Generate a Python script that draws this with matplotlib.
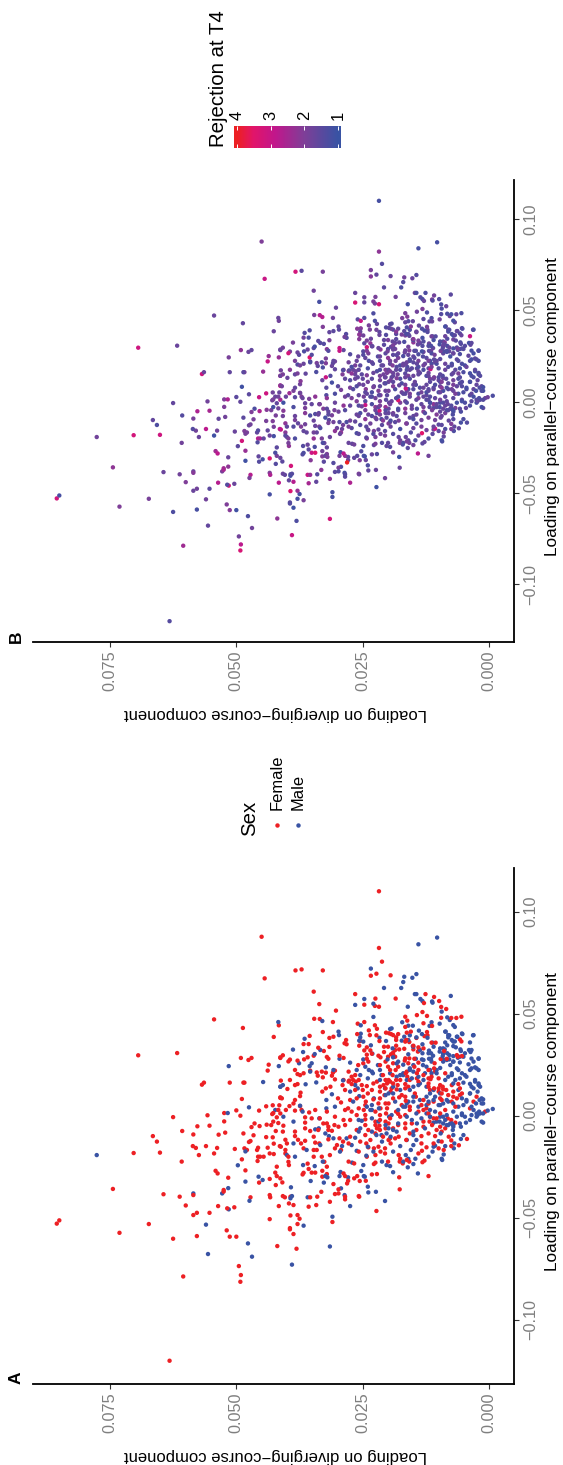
import numpy as np
import matplotlib
matplotlib.use("Agg")
import matplotlib.pyplot as plt
from matplotlib.colors import LinearSegmentedColormap
from matplotlib.lines import Line2D

plt.rcParams['font.family'] = ['Liberation Sans', 'DejaVu Sans']

# Each row: parallel-course loading, diverging-course loading, rejection at T4
female_outer = [
(.0877,.0450,2.0),(.0673,.0444,3.0),(.0472,.0544,1.7),(.0430,.0487,1.6),(.0443,.0416,1.8),(.0386,.0426,1.7),(.0296,.0694,3.1),(.0307,.0617,1.7),
(.0283,.0491,2.2),(.0273,.0476,1.7),(.0283,.0470,1.6),(.0250,.0436,2.3),(.0221,.0438,3.0),(.0283,.0413,1.5),(.0152,.0568,3.1),(.0162,.0564,1.7),
(.0162,.0513,1.6),(.0162,.0486,1.5),(.0162,.0484,1.9),(.0087,.0413,3.0),(.0082,.0489,1.1),(.0046,.0441,3.1),(.0051,.0428,1.8),(.0051,.0415,1.7),
(.0026,.0500,1.5),(.0025,.0455,3.0),(.0028,.0417,1.8),(.0013,.0524,2.0),(.0008,.0429,1.8),(.0013,.0427,1.9),(.0000,.0492,1.6),(-.0007,.0625,1.6),
(.0002,.0557,1.8),(-.0008,.0420,1.6),(-.0028,.0524,2.0),(-.0038,.0464,1.3),(-.0029,.0427,1.2),(-.0036,.0417,1.8),(-.0052,.0577,2.6),(-.0049,.0553,2.5),
(-.0056,.0470,2.0),(-.0051,.0454,2.6),(-.0044,.0440,2.1),(-.0046,.0431,1.9),(-.0075,.0607,1.4),(-.0092,.0585,1.9),(-.0093,.0535,1.6),(-.0083,.0522,1.8),
(-.0087,.0486,1.5),(-.0096,.0466,1.9),(-.0075,.0422,1.9),(-.0100,.0665,1.6),(-.0127,.0657,1.3),(-.0105,.0441,1.9),(-.0106,.0428,2.0),(-.0129,.0475,1.7),
(-.0124,.0472,1.8),(-.0149,.0586,1.4),(-.0158,.0580,1.8),(-.0149,.0560,2.8),(-.0158,.0538,1.8),(-.0163,.0503,1.7),(-.0160,.0484,2.0),(-.0168,.0479,1.9),
(-.0157,.0457,1.4),(-.0168,.0459,1.6),(-.0157,.0438,1.6),(-.0137,.0426,1.9),(-.0149,.0414,2.8),(-.0183,.0703,3.2),(-.0181,.0651,3.1),(-.0193,.0574,1.7),
(-.0185,.0544,1.1),(-.0201,.0457,2.7),(-.0201,.0453,2.5),(-.0201,.0446,1.6),(-.0185,.0434,1.7),(-.0188,.0426,1.2),(-.0214,.0489,3.2),
(.1100,.0218,1.2),(.0822,.0218,2.2),
]
female_upper = [
(.0712,.0383,3.2),(.0717,.0371,1.5),(.0712,.0329,1.9),(.0608,.0347,1.8),(.0547,.0336,1.2),(.0515,.0303,1.7),(.0475,.0346,1.9),(.0474,.0335,2.7),
(.0459,.0309,1.8),(.0410,.0329,2.0),(.0391,.0355,1.4),(.0381,.0316,1.6),(.0387,.0308,1.5),(.0371,.0283,1.4),(.0355,.0286,1.8),(.0350,.0282,1.4),
(.0351,.0367,1.8),(.0351,.0357,1.3),(.0333,.0338,1.5),(.0337,.0316,1.9),(.0317,.0327,1.4),(.0296,.0408,1.8),(.0286,.0413,1.7),(.0286,.0359,1.7),
(.0294,.0347,1.5),(.0288,.0321,2.1),(.0279,.0318,1.4),(.0294,.0296,3.0),(.0283,.0288,1.6),(.0275,.0394,1.9),(.0276,.0366,1.3),(.0755,.0212,1.4),
(.0696,.0223,1.6),(.0686,.0234,2.1),(.0596,.0265,1.7),(.0574,.0225,1.9),(.0544,.0247,1.6),(.0538,.0226,1.9),(.0534,.0218,3.3),(.0451,.0260,1.5),
(.0459,.0247,1.4),(.0443,.0226,1.3),(.0426,.0222,1.6),(.0418,.0238,1.9),(.0400,.0261,2.1),(.0394,.0223,1.8),(.0395,.0236,1.9),(.0407,.0204,1.4),
(.0404,.0198,1.5),(.0366,.0217,1.7),(.0343,.0257,2.1),(.0366,.0255,1.8),(.0335,.0242,1.9),(.0320,.0247,1.5),(.0320,.0235,2.2),(.0338,.0208,1.6),
(.0338,.0200,1.9),(.0312,.0208,1.5),(.0299,.0242,3.2),(.0294,.0219,1.7),(.0286,.0215,2.2),(.0304,.0232,1.6),(.0279,.0242,2.0),(.0289,.0200,1.4),
(.0688,.0195,1.7),(.0574,.0185,1.8),(.0596,.0126,1.3),(.0582,.0109,1.8),(.0562,.0099,1.4),(.0552,.0129,1.7),(.0533,.0095,1.3),(.0523,.0085,1.7),
(.0493,.0143,1.8),(.0508,.0132,2.0),(.0489,.0123,1.3),(.0485,.0166,1.9),(.0480,.0095,1.4),(.0479,.0075,1.2),(.0479,.0065,1.6),(.0485,.0055,1.3),
(.0466,.0162,2.0),(.0453,.0130,1.5),(.0435,.0166,1.6),(.0440,.0113,1.7),(.0412,.0155,2.1),(.0407,.0163,1.3),(.0410,.0123,1.9),(.0400,.0194,1.8),
(.0395,.0190,1.4),(.0400,.0180,1.6),(.0394,.0122,1.7),(.0390,.0128,1.2),(.0384,.0184,2.1),(.0371,.0184,1.5),(.0381,.0144,1.7),(.0371,.0164,1.3),
(.0363,.0166,1.9),(.0361,.0158,1.6),(.0374,.0058,1.4),(.0364,.0055,1.7),(.0358,.0114,1.8),(.0358,.0106,1.4),(.0343,.0184,1.5),(.0343,.0150,2.1),
(.0335,.0140,1.9),(.0330,.0130,1.4),(.0325,.0178,1.6),(.0328,.0168,1.3),(.0322,.0186,1.7),(.0309,.0190,1.9),(.0325,.0150,2.2),(.0320,.0139,1.5),
(.0314,.0141,1.7),(.0317,.0089,1.6),(.0297,.0190,1.3),(.0289,.0186,1.8),(.0301,.0194,1.6),(.0297,.0064,1.5),(.0289,.0062,1.8),(.0292,.0054,1.4),
(.0281,.0166,1.7),(.0281,.0158,2.0),(.0279,.0148,1.4),(.0278,.0096,1.9),(.0279,.0084,1.3),
]
female_middle = [
(.0266,.0397,3.2),(.0270,.0379,1.7),(.0224,.0384,1.9),(.0204,.0379,1.4),(.0199,.0374,1.8),(.0208,.0367,1.7),(.0221,.0354,1.5),(.0212,.0341,1.9),
(.0216,.0331,1.4),(.0211,.0323,2.0),(.0196,.0339,1.6),(.0188,.0329,1.3),(.0196,.0311,1.7),(.0221,.0305,1.8),(.0211,.0309,1.5),(.0175,.0394,2.1),
(.0172,.0412,1.8),(.0150,.0384,1.6),(.0155,.0379,1.9),(.0131,.0399,1.7),(.0090,.0413,2.2),(.0178,.0305,1.6),(.0150,.0290,2.0),(.0172,.0277,1.5),
(.0175,.0269,1.7),(.0155,.0272,2.2),(.0167,.0264,1.8),(.0126,.0285,1.6),(.0113,.0373,2.1),(.0096,.0374,1.8),(.0142,.0314,1.4),(.0134,.0323,3.0),
(.0118,.0330,1.7),(.0085,.0299,1.5),(.0065,.0293,1.9),(.0077,.0384,1.6),(.0060,.0387,1.9),(.0047,.0395,2.4),(.0085,.0410,1.8),(.0028,.0402,1.7),
(.0025,.0384,1.5),(.0028,.0371,2.0),(.0016,.0356,1.9),(.0028,.0344,2.2),(.0047,.0374,1.4),(.0011,.0413,2.5),(-.0008,.0364,1.7),(-.0034,.0364,1.9),
(-.0049,.0407,2.1),(-.0078,.0408,1.8),(-.0013,.0351,1.6),(-.0013,.0335,1.9),(-.0005,.0305,1.7),(.0020,.0321,2.2),(-.0054,.0318,1.6),(-.0070,.0318,1.5),
(-.0074,.0311,1.9),(-.0038,.0328,2.0),(-.0070,.0338,1.7),(-.0021,.0288,2.2),(-.0046,.0285,1.4),(-.0054,.0298,1.8),(-.0046,.0306,1.9),(-.0038,.0321,1.5),
(-.0078,.0384,1.7),(-.0100,.0384,1.9),(-.0062,.0364,2.1),(-.0075,.0354,1.3),(-.0103,.0347,1.7),(-.0123,.0364,1.8),(-.0118,.0378,1.6),(-.0136,.0372,2.0),
(-.0132,.0344,1.7),(-.0136,.0336,1.9),(-.0118,.0403,2.2),(-.0136,.0400,1.6),(-.0152,.0412,3.0),(-.0168,.0403,2.1),(-.0168,.0347,1.8),(-.0168,.0341,1.6),
(-.0116,.0318,1.9),(-.0111,.0296,1.4),(-.0144,.0301,1.7),(-.0160,.0305,2.2),(-.0127,.0289,1.8),(-.0136,.0278,1.9),(-.0127,.0255,1.4),(-.0155,.0239,2.0),
(-.0103,.0275,1.8),(-.0176,.0258,1.5),(-.0201,.0242,2.1),(-.0193,.0225,1.9),(-.0168,.0293,2.2),(-.0160,.0367,1.6),(-.0201,.0397,1.9),(-.0185,.0403,1.5),
(-.0201,.0347,2.3),(-.0201,.0331,1.9),(-.0193,.0315,1.7),(.0248,.0259,1.7),(.0257,.0249,1.4),(.0265,.0239,1.9),(.0216,.0278,1.8),(.0191,.0272,1.3),
(.0199,.0265,1.9),(.0167,.0278,2.2),(.0175,.0258,1.6),(.0175,.0288,1.9),(.0126,.0265,1.7),(.0150,.0252,1.5),(.0145,.0242,2.0),(.0158,.0229,1.7),
(.0167,.0222,1.4),(.0150,.0209,1.8),(.0158,.0202,1.9),(.0126,.0232,1.5),(.0118,.0216,1.8),(.0175,.0199,1.6),(.0077,.0275,1.9),(.0085,.0262,1.4),
(.0093,.0249,1.7),(.0080,.0229,1.8),(.0085,.0216,1.5),(.0060,.0219,2.0),(.0060,.0199,1.8),(.0036,.0279,1.5),(.0020,.0272,1.9),(.0036,.0258,1.6),
(.0028,.0248,1.8),(.0003,.0245,1.4),(.0003,.0216,1.9),(.0020,.0225,1.8),(.0036,.0202,1.5),(-.0021,.0216,1.9),(-.0029,.0225,2.1),(-.0038,.0199,1.6),
(-.0018,.0245,3.0),(-.0070,.0239,1.7),(-.0062,.0222,1.4),(-.0070,.0216,1.9),(-.0119,.0235,1.8),(-.0152,.0219,1.6),(-.0119,.0199,2.0),(-.0160,.0206,1.5),
(-.0185,.0206,1.9),(-.0049,.0217,3.3),
]
female_core = [
(.0257,.0190,1.5),(.0240,.0180,1.9),(.0270,.0167,1.7),(.0260,.0140,1.3),(.0224,.0196,1.8),(.0199,.0191,2.0),(.0175,.0184,1.6),(.0175,.0176,1.4),
(.0216,.0163,1.8),(.0175,.0157,1.6),(.0183,.0143,1.5),(.0167,.0196,1.9),(.0158,.0190,1.7),(.0134,.0193,1.5),(.0150,.0181,1.8),(.0129,.0183,2.0),
(.0134,.0166,1.7),(.0155,.0166,1.5),(.0142,.0160,1.9),(.0101,.0173,1.3),(.0093,.0166,1.8),(.0090,.0178,1.6),(.0109,.0147,1.7),(.0093,.0145,1.4),
(.0224,.0120,1.9),(.0232,.0109,1.5),(.0216,.0107,1.7),(.0183,.0120,1.6),(.0134,.0109,1.9),(.0134,.0100,1.4),(.0129,.0091,1.8),(.0150,.0097,1.5),
(.0158,.0120,1.7),(.0150,.0074,1.5),(.0155,.0061,1.9),(.0134,.0058,1.4),(.0208,.0087,1.7),(.0101,.0081,1.5),(.0093,.0071,1.9),(.0085,.0064,1.6),
(.0109,.0054,1.4),(.0069,.0074,1.8),(.0069,.0031,1.6),(.0036,.0038,1.4),(.0020,.0008,1.7),(.0093,.0025,1.6),(.0044,.0067,1.9),(.0028,.0087,1.5),
(.0069,.0110,1.8),(.0077,.0130,1.7),(.0044,.0157,1.9),(.0028,.0157,1.6),(.0052,.0173,1.8),(.0020,.0184,1.5),(-.0005,.0176,2.0),(.0003,.0166,1.7),
(-.0029,.0130,1.9),(.0028,.0130,1.6),(-.0005,.0117,1.7),(-.0013,.0110,2.2),(-.0029,.0118,1.5),(-.0046,.0113,1.9),(-.0038,.0153,1.7),(-.0038,.0166,2.2),
(-.0062,.0166,1.8),(-.0046,.0180,1.5),(-.0062,.0190,1.9),(-.0013,.0104,1.6),(-.0062,.0087,1.9),(-.0070,.0104,2.0),(-.0078,.0094,1.7),(-.0100,.0107,1.8),
(-.0127,.0094,1.5),(-.0149,.0075,1.9),(-.0145,.0060,1.6),(-.0114,.0044,1.4),(-.0136,.0134,1.9),(-.0172,.0133,3.5),(-.0155,.0124,1.8),(-.0185,.0140,1.7),
(-.0103,.0179,1.9),(-.0111,.0186,1.5),(-.0111,.0196,1.8),(-.0119,.0164,2.0),(-.0193,.0179,1.6),(-.0211,.0176,1.8),(-.0217,.0163,1.9),(.0179,.0116,3.0),
(.0073,.0165,3.0),(.0009,.0180,3.5),
]
female_fill = [
(.0142,.0120,1.6),(.0126,.0117,1.9),(.0142,.0092,1.4),(.0118,.0100,1.7),(.0109,.0094,2.0),(.0126,.0085,1.5),(.0118,.0071,1.8),(.0101,.0058,1.4),
(.0085,.0097,1.7),(.0077,.0094,2.1),(.0060,.0120,1.5),(.0052,.0134,1.8),(.0036,.0124,1.6),(.0020,.0140,2.0),(.0011,.0120,1.5),(.0011,.0097,1.8),
(-.0013,.0082,1.7),(-.0021,.0075,1.4),(-.0034,.0067,1.9),(-.0054,.0097,1.6),(-.0054,.0130,2.1),(-.0070,.0144,1.7),(-.0087,.0120,1.9),(-.0087,.0157,1.5),
(-.0100,.0134,1.8),(-.0103,.0080,1.6),(-.0121,.0075,2.0),(-.0136,.0110,1.7),(-.0160,.0100,1.5),(-.0168,.0090,1.9),(.0208,.0143,1.6),(.0199,.0130,1.8),
(.0183,.0100,1.4),(.0167,.0140,1.7),(.0191,.0114,2.0),(.0240,.0148,1.5),(.0257,.0108,1.8),(.0257,.0160,1.6),(.0224,.0140,1.9),(.0208,.0165,1.7),
(.0191,.0162,1.4),(.0175,.0205,2.0),(.0199,.0210,1.6),(.0224,.0185,1.8),(.0240,.0200,2.2),(.0248,.0216,1.7),(.0265,.0205,1.5),(.0118,.0195,1.9),
(.0101,.0207,1.6),(.0085,.0190,2.0),(.0060,.0205,1.7),(.0036,.0215,1.9),(.0011,.0204,1.5),(-.0013,.0196,1.8),(-.0029,.0205,2.3),(-.0046,.0225,1.7),
(-.0062,.0205,1.6),(-.0087,.0225,1.9),(-.0103,.0210,2.1),(-.0136,.0195,1.7),(-.0136,.0243,1.5),(-.0160,.0228,1.9),(-.0176,.0215,1.8),(-.0095,.0245,2.2),
(-.0070,.0262,1.7),(-.0046,.0245,1.9),(-.0021,.0275,1.6),(.0003,.0262,2.0),(.0028,.0285,1.8),(.0052,.0245,1.5),(.0069,.0244,2.1),(.0109,.0240,1.8),
(.0126,.0250,1.6),(.0142,.0216,1.9),(.0134,.0205,1.7),
]
female_lower = [
(-.0225,.0608,1.8),(-.0270,.0541,2.4),(-.0283,.0537,2.8),(-.0304,.0516,1.7),(-.0268,.0482,2.3),(-.0222,.0458,1.4),(-.0250,.0420,1.5),(-.0226,.0397,1.9),
(-.0242,.0396,2.2),(-.0279,.0423,1.3),(-.0296,.0420,1.9),(-.0310,.0434,3.4),(-.0307,.0413,1.7),(-.0327,.0409,1.5),(-.0340,.0422,1.4),(-.0328,.0455,1.4),
(-.0359,.0744,2.2),(-.0385,.0644,1.7),(-.0397,.0612,1.8),(-.0389,.0585,2.1),(-.0364,.0525,2.4),(-.0372,.0525,2.5),(-.0400,.0472,2.7),(-.0389,.0434,2.0),
(-.0400,.0433,2.6),(-.0394,.0408,1.7),(-.0400,.0404,1.6),(-.0430,.0396,1.6),(-.0397,.0393,1.4),(-.0440,.0600,2.0),(-.0443,.0536,2.7),(-.0454,.0518,1.4),
(-.0449,.0504,1.7),(-.0443,.0416,2.8),(-.0438,.0387,2.7),(-.0476,.0578,1.8),(-.0487,.0585,1.7),(-.0476,.0553,1.5),(-.0489,.0393,3.4),(-.0487,.0379,2.3),
(-.0505,.0375,1.2),(-.0507,.0434,1.2),(-.0531,.0379,1.2),(-.0521,.0310,1.2),(-.0513,.0850,1.2),(-.0529,.0855,3.2),(-.0531,.0673,1.9),(-.0574,.0731,2.0),
(-.0562,.0519,2.0),(-.0551,.0394,1.5),(-.0557,.0394,1.4),(-.0580,.0387,1.1),(-.0590,.0578,1.2),(-.0593,.0513,2.1),(-.0593,.0500,1.1),(-.0603,.0625,1.3),
(-.0639,.0419,2.2),(-.0652,.0381,1.3),(-.0737,.0495,1.8),(-.0781,.0491,2.8),(-.0788,.0605,2.4),(-.0814,.0492,3.3),(-.1201,.0632,1.4),(-.0288,.0369,1.4),
(-.0280,.0367,1.3),(-.0261,.0357,1.5),(-.0279,.0351,3.0),(-.0279,.0344,3.4),(-.0235,.0359,1.7),(-.0270,.0330,1.8),(-.0250,.0321,1.6),(-.0299,.0330,2.0),
(-.0286,.0321,1.9),(-.0226,.0326,1.7),(-.0335,.0308,1.4),(-.0373,.0332,2.2),(-.0400,.0354,2.3),(-.0397,.0340,1.4),(-.0446,.0357,2.5),(-.0438,.0342,1.6),
(-.0422,.0315,2.2),(-.0384,.0305,1.5),(-.0381,.0298,1.4),(-.0361,.0298,1.9),(-.0283,.0288,2.8),(-.0296,.0285,2.2),(-.0319,.0279,1.7),(-.0332,.0281,4.0),
(-.0397,.0285,1.4),(-.0410,.0285,1.5),(-.0307,.0267,1.6),(-.0320,.0256,2.0),(-.0296,.0261,1.5),(-.0319,.0244,1.7),(-.0394,.0258,2.0),(-.0397,.0257,1.8),
(-.0467,.0223,1.1),(-.0288,.0232,1.7),(-.0286,.0222,1.4),(-.0237,.0228,1.6),(-.0230,.0225,1.9),(-.0225,.0278,1.7),(-.0234,.0267,1.8),(-.0225,.0200,1.6),
(-.0225,.0177,1.9),(-.0234,.0171,1.4),(-.0302,.0178,1.1),(-.0361,.0177,1.7),(-.0225,.0158,1.9),(-.0220,.0128,1.6),(-.0228,.0132,1.5),(-.0296,.0120,1.8),
]
male_outer = [
(.0459,.0417,1.7),(.0243,.0515,1.9),(.0243,.0416,2.3),(.0165,.0447,2.3),(.0142,.0413,3.0),(.0041,.0475,1.5),(.0028,.0423,1.7),(.0013,.0517,2.6),
(-.0175,.0482,1.9),(-.0193,.0776,1.8),(.0873,.0103,1.2),(.0840,.0140,1.2),
(.0721,.0234,1.9),(.0626,.0208,1.5),(.0572,.0247,1.7),(.0543,.0265,3.3),(.0549,.0229,1.9),(.0484,.0229,1.3),(.0464,.0330,2.7),(.0443,.0254,3.0),
(.0412,.0298,1.6),(.0395,.0297,1.5),(.0377,.0365,1.4),(.0402,.0254,2.1),(.0384,.0255,1.7),(.0368,.0257,2.2),(.0363,.0249,1.8),(.0382,.0217,1.5),
(.0366,.0204,1.4),(.0345,.0234,1.7),(.0425,.0196,1.6),(.0324,.0388,1.9),(.0312,.0368,1.5),(.0322,.0334,1.4),(.0302,.0345,1.2),(.0279,.0296,3.0),
(.0304,.0231,1.7),(.0276,.0249,1.4),(.0276,.0201,1.8),
]
male_upper = [
(.0694,.0144,1.4),(.0676,.0152,1.7),(.0681,.0168,1.8),(.0655,.0170,1.4),(.0626,.0174,1.3),(.0596,.0147,1.7),(.0596,.0144,1.3),(.0587,.0076,1.5),
(.0572,.0136,1.4),(.0562,.0132,1.2),(.0560,.0113,2.0),(.0554,.0112,1.4),(.0534,.0161,1.2),(.0510,.0094,1.3),(.0458,.0172,1.9),(.0441,.0160,1.4),
(.0441,.0151,1.6),(.0458,.0114,1.3),(.0440,.0118,1.5),(.0451,.0098,1.8),(.0482,.0083,1.3),(.0469,.0078,1.7),(.0444,.0071,1.2),(.0435,.0068,1.6),
(.0428,.0193,1.4),(.0417,.0139,1.6),(.0400,.0133,1.3),(.0412,.0086,1.8),(.0400,.0053,1.2),(.0394,.0032,1.3),(.0387,.0168,1.5),(.0394,.0157,1.3),
(.0384,.0144,1.7),(.0394,.0079,1.4),(.0384,.0081,1.3),(.0387,.0063,1.6),(.0382,.0122,1.4),(.0368,.0173,1.9),(.0363,.0071,1.2),(.0364,.0068,1.5),
(.0359,.0038,3.0),(.0358,.0112,1.3),(.0359,.0087,1.7),(.0345,.0083,1.4),(.0350,.0132,1.2),(.0341,.0071,1.8),(.0335,.0066,1.5),(.0330,.0191,1.6),
(.0341,.0151,1.3),(.0330,.0091,1.4),(.0325,.0088,2.1),(.0325,.0057,1.3),(.0317,.0056,1.4),(.0322,.0040,1.2),(.0312,.0037,1.6),(.0319,.0119,1.7),
(.0306,.0115,1.3),(.0294,.0111,1.6),(.0314,.0098,1.2),(.0303,.0091,1.7),(.0306,.0132,1.4),(.0301,.0160,1.8),(.0306,.0083,1.3),(.0297,.0079,1.6),
(.0292,.0071,1.2),(.0289,.0051,1.4),(.0292,.0092,1.5),(.0280,.0035,1.2),(.0279,.0021,1.3),(.0286,.0190,1.7),(.0279,.0145,1.4),(.0276,.0133,1.2),
(.0279,.0119,1.5),(.0279,.0115,1.8),(.0276,.0091,1.3),(.0276,.0079,1.6),(.0284,.0062,1.4),
]
male_middle = [
(.0257,.0376,1.5),(.0257,.0351,1.4),(.0243,.0355,3.5),(.0237,.0323,1.9),(.0216,.0354,1.3),(.0224,.0308,1.6),(.0260,.0275,1.4),(.0224,.0262,1.7),
(.0199,.0255,1.5),(.0173,.0289,1.4),(.0163,.0342,1.3),(.0154,.0363,1.6),(.0150,.0408,1.9),(.0142,.0413,1.7),(.0105,.0311,1.2),(.0077,.0322,1.5),
(.0049,.0374,1.8),(.0044,.0305,1.3),(.0096,.0257,1.7),(.0069,.0269,1.4),(.0044,.0242,1.6),(.0028,.0232,1.3),(.0020,.0369,1.7),(.0036,.0322,1.4),
(-.0005,.0407,1.1),(-.0029,.0387,1.3),(-.0013,.0336,1.7),(-.0021,.0258,1.4),(-.0025,.0252,1.8),(-.0013,.0232,1.3),(-.0029,.0219,1.5),(-.0062,.0199,1.6),
(-.0062,.0255,1.3),(-.0078,.0258,1.7),(-.0067,.0344,1.4),(-.0062,.0337,1.6),(-.0087,.0324,1.2),(-.0100,.0317,1.5),(-.0111,.0308,1.8),(-.0111,.0282,1.3),
(-.0108,.0265,1.6),(-.0078,.0232,1.4),(-.0095,.0223,1.7),(-.0095,.0213,1.3),(-.0087,.0203,1.5),(-.0136,.0387,1.4),(-.0168,.0361,1.6),(-.0144,.0334,1.3),
(-.0149,.0291,1.7),(-.0144,.0272,1.5),(-.0172,.0262,1.3),(-.0196,.0243,1.6),(-.0176,.0229,1.4),(-.0193,.0400,1.5),(-.0201,.0384,1.3),(-.0176,.0295,1.7),
(.0175,.0216,1.3),(.0199,.0213,1.6),(.0224,.0216,1.4),(.0216,.0232,1.7),(.0224,.0238,1.3),(.0134,.0206,1.5),(.0109,.0199,1.7),(.0028,.0235,1.4),
]
male_core = [
(.0033,-.0007,1.3),(.0025,.0003,1.8),(.0011,.0012,1.4),(-.0029,.0015,1.2),(-.0034,.0012,1.5),(.0020,.0020,1.3),(.0003,.0023,1.6),(.0060,.0026,1.2),
(.0077,.0019,1.3),(.0085,.0015,1.5),(.0060,.0012,1.2),(.0237,.0028,1.5),(.0224,.0021,1.3),(.0224,.0038,1.4),(.0252,.0041,1.6),(.0265,.0031,1.2),
(.0261,.0058,1.3),(.0265,.0071,1.7),(.0224,.0061,1.4),(.0199,.0048,1.2),(.0175,.0067,1.5),(.0162,.0051,1.3),(.0156,.0038,1.2),(.0158,.0021,1.4),
(.0167,.0028,1.2),(.0134,.0031,1.3),(.0118,.0023,1.6),(.0109,.0038,1.2),(.0069,.0045,1.4),(.0052,.0051,1.3),(.0044,.0035,1.6),(.0028,.0031,1.2),
(.0011,.0025,1.4),(-.0021,.0038,1.3),(-.0034,.0046,1.6),(-.0054,.0056,1.3),(-.0046,.0071,1.2),(-.0038,.0077,1.5),(-.0095,.0051,1.3),(-.0095,.0071,1.4),
(-.0114,.0056,1.2),(-.0136,.0069,1.6),(-.0149,.0087,1.3),(-.0147,.0107,3.0),(-.0152,.0110,1.8),(-.0062,.0127,1.4),(-.0078,.0150,1.6),(-.0095,.0150,1.3),
(-.0119,.0163,1.5),(-.0149,.0176,1.2),(-.0144,.0150,1.7),(-.0119,.0144,1.4),(-.0211,.0146,1.3),(-.0211,.0160,1.6),(-.0211,.0094,1.2),(-.0046,.0084,1.4),
(-.0038,.0091,1.7),(-.0029,.0098,1.3),(-.0034,.0110,1.5),(.0028,.0117,1.4),(.0020,.0107,1.6),(.0052,.0100,1.3),(.0069,.0120,1.5),(.0060,.0091,1.2),
(.0069,.0081,1.4),(.0060,.0071,1.7),(.0044,.0061,1.3),(.0020,.0071,1.5),(.0003,.0054,1.2),(.0003,.0084,1.6),(-.0005,.0091,1.4),(.0175,.0130,1.3),
(.0150,.0140,1.6),(.0126,.0157,1.4),(.0208,.0127,1.7),(.0191,.0140,1.3),(.0183,.0153,1.5),(.0224,.0117,1.2),(.0248,.0150,1.6),(.0224,.0157,1.4),
(.0199,.0170,1.7),(.0199,.0176,1.3),(.0109,.0190,1.5),(.0069,.0186,1.3),(.0060,.0163,1.7),(.0069,.0150,1.4),(.0044,.0166,1.5),(.0044,.0140,1.3),
(.0011,.0144,1.6),(.0028,.0180,1.4),(.0003,.0193,1.7),(-.0038,.0180,1.3),(-.0078,.0183,1.5),(.0248,.0131,1.4),(.0265,.0114,1.3),(.0265,.0091,1.6),
(.0248,.0077,1.2),(.0234,.0097,1.5),(.0208,.0104,1.3),(.0175,.0087,1.7),(.0199,.0074,1.4),(.0183,.0058,1.2),(.0109,.0117,1.5),(.0093,.0107,1.3),
(.0093,.0124,1.6),
]
male_fill = [
(.0060,.0015,1.3),(.0080,.0012,1.2),(.0142,.0018,1.4),(.0150,.0021,1.2),(.0175,.0028,1.5),(.0142,.0035,1.3),(.0109,.0038,1.6),(.0077,.0045,1.2),
(.0085,.0054,1.4),(.0126,.0061,1.3),(.0158,.0071,1.6),(.0191,.0081,1.4),(.0208,.0074,1.2),(.0232,.0064,1.5),(.0208,.0054,1.3),(.0191,.0045,1.7),
(.0232,.0035,1.2),(.0232,.0025,1.4),(.0281,.0021,1.3),(.0322,.0035,1.5),(.0395,.0031,1.2),(.0403,.0054,1.4),(.0387,.0064,1.6),(.0371,.0074,1.3),
(.0395,.0081,1.5),(.0412,.0087,1.2),(.0330,.0097,1.4),(.0306,.0091,1.7),(.0273,.0084,1.3),(.0265,.0071,1.5),(.0289,.0058,1.2),(.0306,.0048,1.4),
(.0224,.0104,1.6),(.0208,.0114,1.3),(.0240,.0124,1.5),(.0273,.0130,1.7),(.0306,.0120,1.4),(.0338,.0110,1.2),(.0322,.0137,1.6),(.0338,.0150,1.3),
(.0371,.0160,1.5),(.0011,.0018,1.4),(-.0005,.0025,1.2),(.0003,.0035,1.5),(-.0005,.0048,1.3),(.0011,.0054,1.6),(-.0005,.0064,1.2),(-.0038,.0074,1.4),
(-.0046,.0081,1.6),(-.0054,.0071,1.3),(-.0038,.0058,1.5),(-.0021,.0087,1.7),(-.0005,.0097,1.3),(-.0029,.0104,1.5),(-.0005,.0117,1.2),(.0011,.0124,1.4),
(-.0013,.0134,1.6),(-.0038,.0143,1.3),(-.0021,.0153,1.7),(-.0005,.0163,1.4),(.0044,.0170,1.5),(.0069,.0160,1.3),(.0093,.0150,1.6),(.0077,.0137,1.4),
(.0052,.0124,1.2),(.0077,.0110,1.5),(.0052,.0097,1.7),(.0077,.0084,1.3),(.0109,.0097,1.4),(.0126,.0110,1.6),(.0142,.0124,1.3),(.0158,.0137,1.5),
(.0142,.0150,1.7),(.0175,.0163,1.4),(.0126,.0176,1.3),(.0142,.0190,1.6),(.0191,.0183,1.4),(.0208,.0170,1.7),(.0232,.0157,1.3),(.0256,.0183,1.5),
(.0208,.0196,1.6),(.0101,.0205,1.4),(.0085,.0228,1.7),(.0052,.0232,1.3),(.0036,.0218,1.5),(-.0005,.0198,1.6),(-.0046,.0205,1.4),(-.0070,.0190,1.7),
(-.0103,.0195,1.3),(-.0127,.0212,1.5),(-.0152,.0240,1.6),(-.0176,.0190,1.4),(-.0193,.0165,1.7),(-.0201,.0120,1.3),(-.0176,.0112,1.5),(-.0168,.0155,1.4),
(-.0190,.0090,1.6),(-.0160,.0070,1.3),(-.0125,.0100,1.5),(-.0087,.0096,1.7),(-.0070,.0072,1.3),(.0134,.0260,1.6),(.0118,.0275,1.4),(.0150,.0265,1.7),
(.0183,.0240,1.3),(.0208,.0230,1.5),(.0240,.0245,1.6),(.0248,.0220,1.4),(.0265,.0180,1.7),(.0250,.0170,1.3),(.0216,.0150,1.5),
]
male_lower = [
(-.0243,.0497,1.5),(-.0323,.0482,1.1),(-.0299,.0456,1.6),(-.0315,.0448,1.2),(-.0242,.0368,1.4),(-.0247,.0345,1.3),(-.0320,.0353,2.1),(-.0328,.0327,1.5),
(-.0351,.0392,3.2),(-.0394,.0390,1.4),(-.0405,.0393,1.2),(-.0400,.0359,3.0),(-.0381,.0585,1.7),(-.0381,.0528,1.9),(-.0355,.0516,2.2),(-.0417,.0474,1.9),
(-.0459,.0515,3.2),(-.0534,.0560,1.8),(-.0626,.0477,1.3),(-.0678,.0556,1.6),(-.0691,.0469,1.8),(-.0730,.0390,3.0),(-.0539,.0367,1.9),(-.0495,.0310,1.2),
(-.0641,.0315,3.2),(-.0443,.0275,2.6),(-.0296,.0324,1.6),(-.0302,.0320,1.9),(-.0225,.0329,1.3),(-.0296,.0296,1.8),(-.0276,.0294,1.2),(-.0356,.0293,1.3),
(-.0389,.0286,1.2),(-.0302,.0279,1.5),(-.0271,.0253,1.4),(-.0296,.0248,1.2),(-.0299,.0246,1.1),(-.0242,.0249,1.3),(-.0348,.0240,1.3),(-.0376,.0239,1.6),
(-.0373,.0224,1.7),(-.0418,.0206,1.8),(-.0225,.0212,1.4),(-.0242,.0203,1.6),(-.0247,.0196,1.4),(-.0277,.0190,1.8),(-.0225,.0170,1.3),(-.0253,.0161,1.5),
(-.0237,.0150,1.8),(-.0283,.0141,2.8),(-.0217,.0093,1.3),(-.0230,.0271,1.6),
]

x_ticks = [-0.10, -0.05, 0.00, 0.05, 0.10]
x_ticklabels = ['\u22120.10', '\u22120.05', '0.00', '0.05', '0.10']
y_ticks = [0.000, 0.025, 0.050, 0.075]
y_ticklabels = ['0.000', '0.025', '0.050', '0.075']
rej_ticks = [1, 2, 3, 4]
sex_names = ['Female', 'Male']
sex_colors = ['#ED2024', '#3953A4']

female = np.array(female_outer + female_upper + female_middle + female_core + female_fill + female_lower)
male = np.array(male_outer + male_upper + male_middle + male_core + male_fill + male_lower)
par = np.concatenate([female[:, 0], male[:, 0]])
div = np.concatenate([female[:, 1], male[:, 1]])
rej = np.concatenate([female[:, 2], male[:, 2]])
sex = np.concatenate([np.zeros(len(female), int), np.ones(len(male), int)])
order = np.argsort((par * 9973 + div * 7919) % 0.37)   # mixes the two groups in drawing order
par, div, rej, sex = par[order], div[order], rej[order], sex[order]

cmap = LinearSegmentedColormap.from_list(
    'rej', [(0, '#3953A4'), (1/3, '#7F3F98'), (0.62, '#C1178C'), (0.84, '#E2156A'), (1, '#ED2024')])

W, H = 563, 1465
fig = plt.figure(figsize=(W / 100, H / 100), dpi=100)
GRAY = '#7F7F7F'


def add_panel(top, bottom, letter, letter_y):
    left, right = 33, 514
    ax = fig.add_axes([left / W, 1 - bottom / H, (right - left) / W, (bottom - top) / H])
    ax.set_xlim(0.0902, -0.0049)
    ax.set_ylim(-0.1315, 0.1214)
    for s in ['top', 'left']:
        ax.spines[s].set_visible(False)
    for s in ['bottom', 'right']:
        ax.spines[s].set_linewidth(1.3)
    ax.xaxis.tick_bottom()
    ax.yaxis.tick_right()
    ax.set_xticks(y_ticks, y_ticklabels)
    ax.set_yticks(x_ticks, x_ticklabels)
    ax.tick_params(axis='both', length=3.6, width=0.8, color='#333333', labelcolor=GRAY, labelsize=11.7)
    ax.tick_params(axis='x', labelrotation=90, pad=2.5)
    ax.tick_params(axis='y', labelrotation=90, pad=3.2)
    for t in ax.get_yticklabels():
        t.set_va('center')
    ax.set_xlabel('Loading on diverging\u2212course component', fontsize=12, rotation=180, va='center', ha='center')
    ax.xaxis.set_label_coords(0.505, -72 / (bottom - top))
    ax.yaxis.set_label_position('right')
    ax.set_ylabel('Loading on parallel\u2212course component', fontsize=12.4, rotation=90, va='center', ha='center')
    ax.yaxis.set_label_coords(1 + 38 / (right - left), 0.5 + 4 / (bottom - top))
    fig.text(16 / W, 1 - letter_y / H, letter, rotation=90, fontsize=12.5, fontweight='bold', ha='center', va='center')
    return ax


ax_a = add_panel(868, 1384, 'A', 1378)
ax_a.scatter(div, par, s=10, c=[sex_colors[i] for i in sex], linewidths=0, clip_on=False)

ax_b = add_panel(180, 642, 'B', 637)
ax_b.scatter(div, par, s=10, c=rej, cmap=cmap, vmin=1, vmax=4, linewidths=0, clip_on=False)

# Sex legend
fig.text(250 / W, 1 - 818 / H, 'Sex', rotation=90, fontsize=14.7, ha='center', va='center')
for px, name, col in zip([277, 298], sex_names, sex_colors):
    fig.add_artist(Line2D([px / W], [1 - 825 / H], marker='o', ms=3.2, mfc=col, mec='none', ls='none', transform=fig.transFigure))
    fig.text(px / W, 1 - 810 / H, name, rotation=90, fontsize=11.9, ha='center', va='bottom')

# Rejection colour bar
cax = fig.add_axes([234 / W, 1 - 148 / H, (341 - 234) / W, 22 / H])
grad = np.linspace(4.09, 0.91, 256)[None, :]
cax.imshow(grad, aspect='auto', cmap=cmap, vmin=1, vmax=4, extent=[4.09, 0.91, 0, 1])
cax.set_xlim(4.09, 0.91)
cax.set_yticks([])
cax.set_xticks(rej_ticks, [str(v) for v in rej_ticks])
cax.tick_params(axis='x', direction='in', top=True, bottom=True, length=3, width=0.7, color='white',
                labelbottom=False, labeltop=True, labelsize=11.9, labelrotation=90, pad=4)
for s in cax.spines.values():
    s.set_visible(False)
fig.text(218 / W, 1 - 147 / H, 'Rejection at T4', rotation=90, fontsize=14.7, ha='center', va='bottom')

fig.savefig('out.png', dpi=100)
